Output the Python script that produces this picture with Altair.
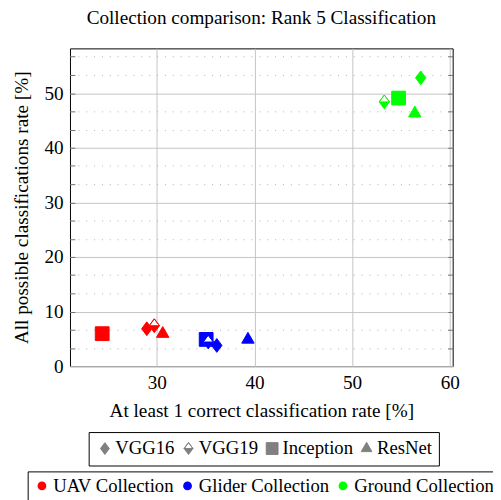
import altair as alt
import pandas as pd

# ---- data ----
collections = ["UAV Collection", "Glider Collection", "Ground Collection"]
collection_colors = ["#ff0000", "#0000ff", "#00ff00"]
models = ["VGG16", "VGG19", "Inception", "ResNet"]

point_collection = (["UAV Collection"] * 4 + ["Glider Collection"] * 4
                    + ["Ground Collection"] * 4)
point_model = models * 3
x_vals = [28.97, 29.74, 24.4, 30.6,
          36.14, 35.26, 35.05, 39.33,
          57.03, 53.3, 54.76, 56.42]
y_vals = [6.85, 7.4, 5.95, 5.93,
          3.79, 4.42, 4.9, 4.87,
          52.8, 48.4, 49.1, 46.3]

x_ticks = [30, 40, 50, 60]
y_ticks = [0, 10, 20, 30, 40, 50]
y_minor = [3.33, 6.67, 13.33, 16.67, 23.33, 26.67, 33.33, 36.67,
           43.33, 46.67, 53.33, 56.67]
y_all_ticks = sorted(y_ticks[1:] + y_minor)

df = pd.DataFrame({"collection": point_collection, "model": point_model,
                   "x": x_vals, "y": y_vals})

# ---- marker shapes (pgfplots style) ----
diamond = "M0,-1L0.75,0L0,1L-0.75,0Z"
halfdiamond = "M0,-1L0.75,0L0,1L-0.75,0Z M0.75,0L0,-1L-0.75,0Z"
square = "M-1,-1L1,-1L1,1L-1,1Z"
triangle = "M0,-1.05L0.9,0.52L-0.9,0.52Z"

FONT = "Liberation Serif"
FS = 19.5
FSL = 19

x_enc = alt.X("x:Q",
              scale=alt.Scale(domain=[21.1, 60.3], nice=False, zero=False),
              axis=alt.Axis(values=x_ticks, title="At least 1 correct classification rate [%]",
                            grid=True, gridColor="#c4c4c4", ticks=False, domain=False,
                            labelPadding=8, titlePadding=10,
                            labelFont=FONT, titleFont=FONT, labelFontSize=FS,
                            titleFontSize=FS, titleFontWeight="normal",
                            labelColor="black", titleColor="black"))
y_scale = alt.Scale(domain=[0, 58.2], nice=False, zero=False)
y_main = alt.Y("y:Q", scale=y_scale,
               axis=alt.Axis(values=y_ticks, title="All possible classifications rate [%]",
                             orient="left",
                             grid=True, gridColor="#c4c4c4", ticks=False, domain=False,
                             labelPadding=7, titlePadding=13,
                             labelFont=FONT, titleFont=FONT, labelFontSize=FS,
                             titleFontSize=FS, titleFontWeight="normal",
                             labelColor="black", titleColor="black"))

fill_enc = alt.Fill("collection:N",
                    scale=alt.Scale(domain=collections, range=collection_colors),
                    legend=alt.Legend(title=None, orient="none", direction="horizontal",
                                      legendX=-43, legendY=430,
                                      symbolType="circle", symbolSize=55,
                                      labelFont=FONT, labelFontSize=FSL, labelColor="black",
                                      labelOffset=2, columnPadding=4,
                                      strokeColor="black", padding=5))
stroke_enc = alt.Stroke("collection:N",
                        scale=alt.Scale(domain=collections, range=collection_colors),
                        legend=None)
shape_enc = alt.Shape("model:N",
                      scale=alt.Scale(domain=models,
                                      range=[diamond, halfdiamond, square, triangle]),
                      legend=alt.Legend(title=None, orient="none", direction="horizontal",
                                        legendX=19, legendY=390,
                                        symbolSize=144, symbolFillColor="#808080",
                                        symbolStrokeColor="#808080", symbolStrokeWidth=1,
                                        labelFont=FONT, labelFontSize=FSL, labelColor="black",
                                        labelOffset=1, columnPadding=4,
                                        strokeColor="black", padding=7))

base = alt.Chart(df)

minor_grid = base.mark_point(opacity=0).encode(
    y=alt.Y("y:Q", scale=y_scale,
            axis=alt.Axis(values=y_minor, title=None, grid=True, gridColor="#b0b0b0",
                          orient="left",
                          gridDash=[1, 7], labels=False, ticks=False, domain=False))
)
left_ticks = base.mark_point(opacity=0).encode(
    y=alt.Y("y:Q", scale=y_scale,
            axis=alt.Axis(values=y_all_ticks, title=None, grid=False, labels=False,
                          ticks=True, tickSize=5, tickColor="#707070", domain=False,
                          orient="left", offset=-5))
)
right_ticks = base.mark_point(opacity=0).encode(
    y=alt.Y("y:Q", scale=y_scale,
            axis=alt.Axis(values=y_all_ticks, title=None, grid=False, labels=False,
                          ticks=True, tickSize=5, tickColor="#707070", domain=False,
                          orient="right", offset=-5))
)

others = base.transform_filter(alt.datum.model != "VGG19").mark_point(
    filled=True, size=196, strokeWidth=1, opacity=1
).encode(x=x_enc, y=y_main, fill=fill_enc, stroke=stroke_enc, shape=shape_enc)

vgg19_under = base.transform_filter(alt.datum.model == "VGG19").mark_point(
    filled=True, size=196, opacity=1, fill="white", strokeWidth=0
).encode(x=x_enc, y=alt.Y("y:Q", scale=y_scale, axis=None),
         shape=alt.value(diamond))

vgg19_top = base.transform_filter(alt.datum.model == "VGG19").mark_point(
    filled=True, size=196, strokeWidth=1, opacity=1
).encode(x=x_enc, y=alt.Y("y:Q", scale=y_scale, axis=None),
         fill=fill_enc, stroke=stroke_enc, shape=shape_enc)

chart = alt.layer(minor_grid, left_ticks, right_ticks, others, vgg19_under, vgg19_top).resolve_scale(
    y="shared"
).resolve_axis(y="independent").properties(
    width=389, height=323,
    title=alt.TitleParams("Collection comparison: Rank 5 Classification", font=FONT,
                          fontSize=FS, fontWeight="normal", color="black",
                          anchor="middle", frame="group", offset=20),
    autosize=alt.AutoSizeParams(type="none"),
    padding={"left": 63, "top": 37, "right": 41, "bottom": 132},
).configure_view(stroke="black", strokeWidth=1)

chart.save("out.html", embed_options={"renderer": "svg", "actions": False})
